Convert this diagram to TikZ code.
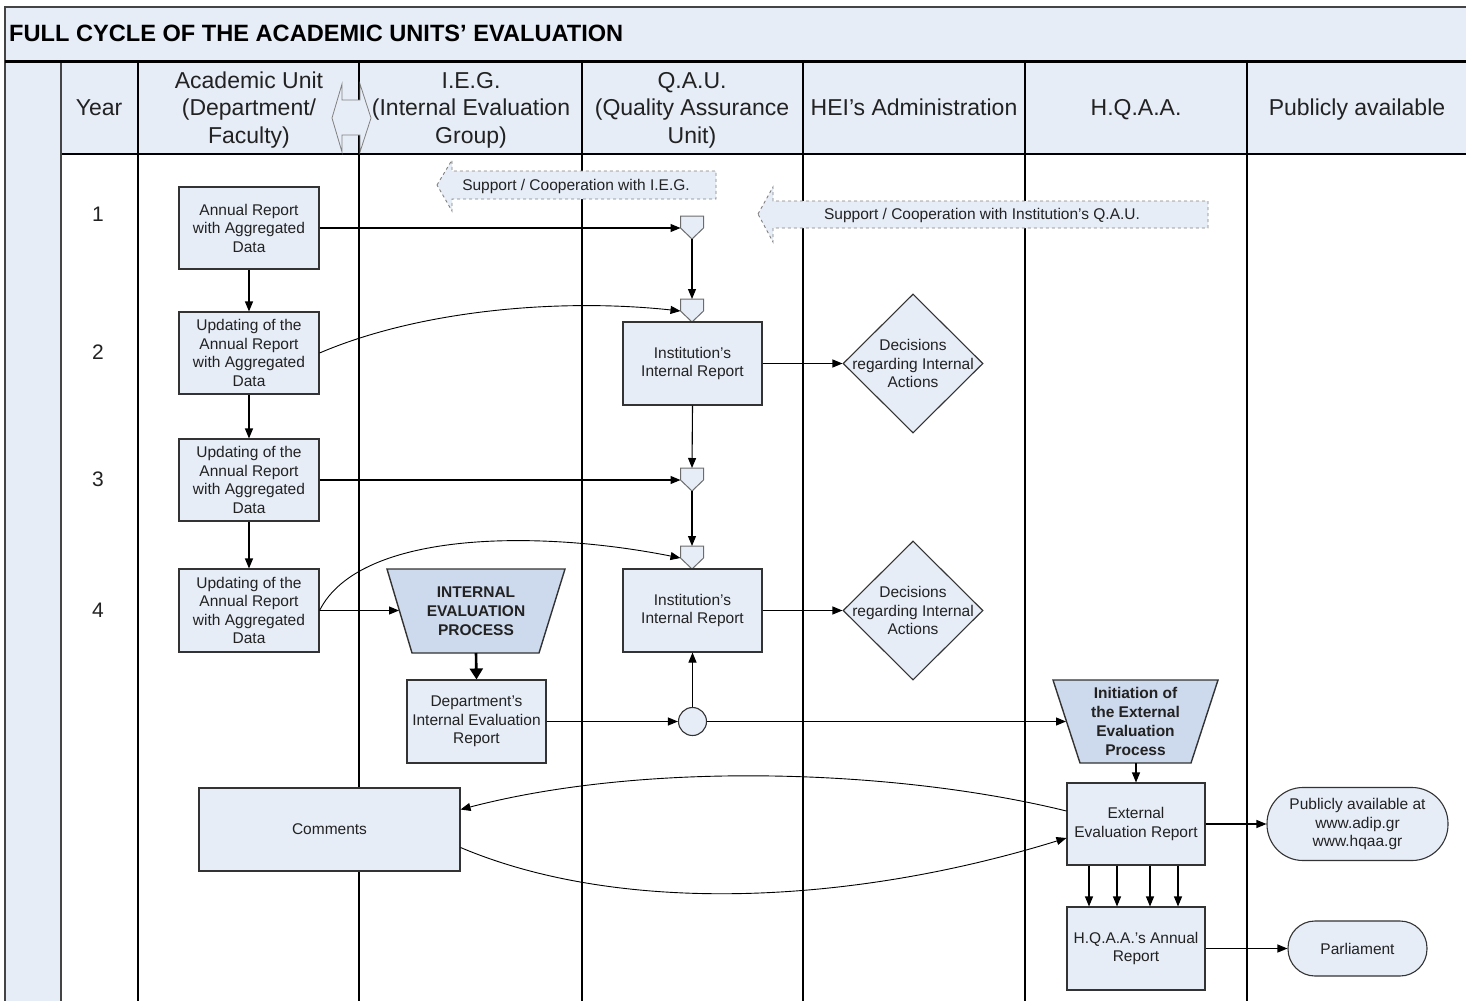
\documentclass[tikz,border=0pt]{standalone}
\usepackage{fontspec}
\setmainfont{Liberation Sans}
\usetikzlibrary{arrows.meta,shapes.geometric}
\definecolor{lf}{HTML}{E6EDF7}
\definecolor{df}{HTML}{CDD9EC}
\definecolor{bl}{HTML}{333333}
\definecolor{tx}{HTML}{222222}
\definecolor{frm}{HTML}{444444}
\tikzset{
  txt/.style={inner sep=0pt, align=center, text=tx, font=\fontsize{15.5}{18.5}\selectfont},
  box/.style={txt, draw=bl, fill=lf, line width=1.1pt},
  hdr/.style={inner sep=0pt, align=center, text=tx, font=\fontsize{23}{27.5}\selectfont},
  boldtxt/.style={inner sep=0pt, align=center, text=tx, font=\bfseries\fontsize{15.5}{19}\selectfont},
  arr/.style={line width=1.1pt, draw=black, -{Triangle[length=10pt,width=8pt]}},
  thickarr/.style={line width=2.6pt, draw=black, -{Triangle[length=11pt,width=13pt]}},
  frame/.style={draw=frm, line width=1.6pt},
  lane/.style={draw=black, line width=1.1pt},
  mergest/.style={draw=gray!85!black, fill=lf, line width=1pt},
  trap/.style={draw=bl, fill=df, line width=1.4pt},
  support/.style={draw=gray, dashed, fill=lf, line width=0.9pt},
}
\newcommand\mergeshape[3]{%
  \path[mergest] (#2-11.5,#3) -- (#2+11.5,#3) -- (#2+11.5,#3+12) -- (#2,#3+23) -- (#2-11.5,#3+12) -- cycle;
  \coordinate (#1t) at (#2,#3);
  \coordinate (#1l) at (#2-11.5,#3+12);
  \coordinate (#1b) at (#2,#3+23);}
\begin{document}
\begin{tikzpicture}[x=1pt,y=-1pt]
\useasboundingbox (0,0) rectangle (1466,1001);
% backgrounds
\fill[lf] (5,7) rectangle (1466,61);
\fill[lf] (61,61) rectangle (1466,154);
\fill[lf] (5,61) rectangle (61,1001);
% lanes
\foreach \xx in {138,359,582,803,1025,1247} \draw[lane] (\xx,61) -- (\xx,1001);
\draw[lane] (61,154) -- (1466,154);
\draw[frame] (1466,7) -- (5,7) -- (5,1001);
\draw[frame] (61,61) -- (61,1001);
\draw[line width=3pt, draw=black] (5,61) -- (1466,61);
% title
\node[anchor=west, inner sep=0pt, text=black, font=\bfseries\fontsize{23.6}{27}\selectfont] (title) at (9,33) {FULL CYCLE OF THE ACADEMIC UNITS’ EVALUATION};
% header double arrow
\path[draw=gray, fill=lf, line width=0.8pt] (332,118) -- (342,84) -- (342,100) -- (360,100) -- (360,84) -- (371,118) -- (360,152) -- (360,135) -- (342,135) -- (342,152) -- cycle;
% header texts
\node[hdr, anchor=base] (hyear) at (99,115.5) {Year};
\node[hdr] (hau) at (249,110) {Academic Unit\\(Department/\\Faculty)};
\node[hdr] (hieg) at (471,110) {I.E.G.\\(Internal Evaluation\\Group)};
\node[hdr] (hqau) at (692,110) {Q.A.U.\\(Quality Assurance\\Unit)};
\node[hdr, anchor=base] (hhei) at (914,115.5) {HEI’s Administration};
\node[hdr, anchor=base] (hhqaa) at (1136,115.5) {H.Q.A.A.};
\node[hdr, anchor=base] (hpub) at (1357,115.5) {Publicly available};
% years
\node[hdr, font=\fontsize{21}{25}\selectfont] (y1) at (98,214) {1};
\node[hdr, font=\fontsize{21}{25}\selectfont] (y2) at (98,352) {2};
\node[hdr, font=\fontsize{21}{25}\selectfont] (y3) at (98,479) {3};
\node[hdr, font=\fontsize{21}{25}\selectfont] (y4) at (98,610) {4};
% support arrows
\path[support] (437,185) -- (452,160) -- (452,171) -- (716,171) -- (716,199) -- (452,199) -- (452,211) -- cycle;
\node[txt] (supieg) at (576,186) {Support / Cooperation with I.E.G.};
\path[support] (758,214) -- (773,187) -- (773,201) -- (1208,201) -- (1208,228) -- (773,228) -- (773,242) -- cycle;
\node[txt] (supqau) at (982,215) {Support / Cooperation with Institution’s Q.A.U.};
% academic unit boxes
\node[box, minimum width=140, minimum height=82] (ar1) at (249,228) {Annual Report\\with Aggregated\\Data};
\node[box, minimum width=140, minimum height=82] (u2) at (249,353) {Updating of the\\Annual Report\\with Aggregated\\Data};
\node[box, minimum width=140, minimum height=82] (u3) at (249,480) {Updating of the\\Annual Report\\with Aggregated\\Data};
\node[box, minimum width=140, minimum height=83] (u4) at (249,610.5) {Updating of the\\Annual Report\\with Aggregated\\Data};
% merges
\mergeshape{m1}{692}{216}
\mergeshape{m2}{692}{299}
\mergeshape{m3}{692}{468}
\mergeshape{m4}{692}{546}
% QAU boxes
\node[box, minimum width=139, minimum height=83] (iir1) at (692.5,363.5) {Institution’s\\Internal Report};
\node[box, minimum width=139, minimum height=83] (iir2) at (692.5,610.5) {Institution’s\\Internal Report};
% diamonds
\node[diamond, draw=bl, fill=lf, line width=1.1pt, minimum width=140, minimum height=139, inner sep=0pt] (d1) at (913,363.5) {};
\node[txt] (d1t) at (d1) {Decisions\\regarding Internal\\Actions};
\node[diamond, draw=bl, fill=lf, line width=1.1pt, minimum width=140, minimum height=139, inner sep=0pt] (d2) at (913,610.5) {};
\node[txt] (d2t) at (d2) {Decisions\\regarding Internal\\Actions};
% internal evaluation process
\path[trap] (387,569) -- (565,569) -- (539,653) -- (412,653) -- cycle;
\node[boldtxt] (iept) at (476,611) {INTERNAL\\EVALUATION\\PROCESS};
\coordinate (iepL) at (399,610.5);
\coordinate (iepB) at (476,653);
\node[box, minimum width=139, minimum height=83] (dier) at (476.5,721.5) {Department’s\\Internal Evaluation\\Report};
\node[circle, draw=bl, fill=lf, line width=1.1pt, minimum size=28, inner sep=0pt] (c1) at (692.5,721.5) {};
% external
\path[trap] (1053,680) -- (1218,680) -- (1191,763) -- (1080,763) -- cycle;
\node[boldtxt] (ieept) at (1135.5,721) {Initiation of\\the External\\Evaluation\\Process};
\coordinate (ieepL) at (1066,721.5);
\coordinate (ieepB) at (1136,763);
\node[box, minimum width=138, minimum height=82] (eer) at (1136,824) {External\\Evaluation Report};
\node[box, minimum width=138, minimum height=83] (har) at (1136,948.5) {H.Q.A.A.’s Annual\\Report};
\node[box, minimum width=261, minimum height=83] (com) at (329.5,829.5) {Comments};
\node[box, minimum width=181, minimum height=73, rounded corners=36pt] (pub) at (1357.5,824) {Publicly available at\\www.adip.gr\\www.hqaa.gr};
\node[box, minimum width=139, minimum height=55, rounded corners=27pt] (parl) at (1357.5,948.5) {Parliament};
% connectors
\draw[arr] (ar1.east) -- (m1l);
\draw[arr] (ar1.south) -- (u2.north);
\draw[arr] (u2.south) -- (u3.north);
\draw[arr] (u3.south) -- (u4.north);
\draw[arr] (m1b) -- (m2t);
\draw[arr, line width=0.9pt] (u2.east) .. controls (420,310) and (560,298) .. (m2l);
\draw[arr] (iir1.east) -- (d1.west);
\draw[arr] (iir1.south) -- (m3t);
\draw[arr] (u3.east) -- (m3l);
\draw[arr] (m3b) -- (m4t);
\draw[arr, line width=0.9pt] (u4.east) .. controls (360,530) and (540,530) .. (m4l);
\draw[arr] (u4.east) -- (iepL);
\draw[thickarr] (iepB) -- (dier.north);
\draw[arr] (dier.east) -- (c1.west);
\draw[arr] (c1.north) -- (iir2.south);
\draw[arr] (iir2.east) -- (d2.west);
\draw[arr] (c1.east) -- (ieepL);
\draw[arr] (ieepB) -- (eer.north);
\draw[arr, line width=0.9pt] ([yshift=13pt]eer.west) .. controls (900,770) and (650,760) .. ([yshift=20pt]com.east);
\draw[arr, line width=0.9pt] ([yshift=-18pt]com.east) .. controls (620,915) and (850,905) .. ([yshift=-14pt]eer.west);
\draw[arr] (eer.east) -- (pub.west);
\foreach \dx in {-47,-19,14,42} \draw[arr] ([xshift=\dx pt]eer.south) -- ([xshift=\dx pt]har.north);
\draw[arr] (har.east) -- (parl.west);
\end{tikzpicture}
\end{document}
